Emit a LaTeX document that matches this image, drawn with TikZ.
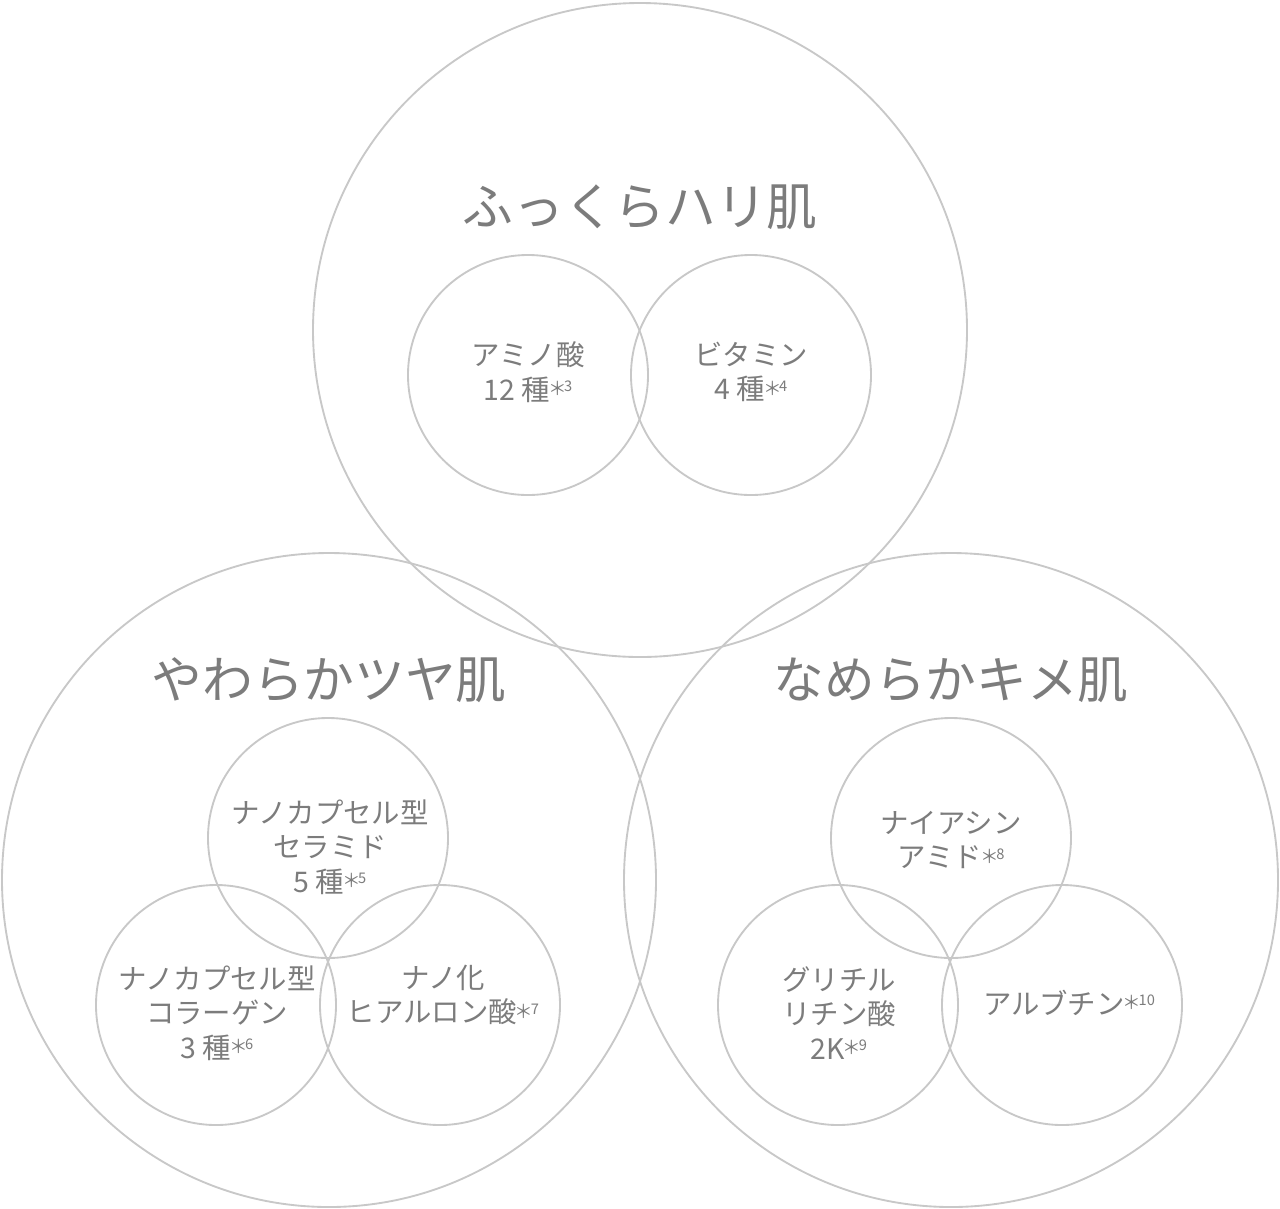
\documentclass[tikz,border=0pt]{standalone}
\usepackage{fontspec}
\setmainfont{Noto Sans CJK JP}
\definecolor{ringgray}{HTML}{C8C8C8}
\definecolor{textgray}{HTML}{7C7C7C}
\newcommand\chu[1]{\kern-1.5pt\raisebox{3.5pt}{\fontsize{14}{14}\selectfont ＊}\kern-2pt\raisebox{6.5pt}{\fontsize{11}{11}\selectfont #1}}

\begin{document}
\begin{tikzpicture}[x=0.75pt,y=-0.75pt,
        bigring/.style={circle,draw=ringgray,line width=1.4pt,minimum size=490.5pt,inner sep=0pt},
        smallring/.style={circle,draw=ringgray,line width=1.4pt,minimum size=180pt,inner sep=0pt},
        skin/.style={text=textgray,font=\fontsize{38}{40}\selectfont,inner sep=0pt},
        ingr/.style={text=textgray,font=\fontsize{21.3}{26}\selectfont,align=center,inner sep=0pt}]
        \useasboundingbox (0,0) rectangle (1280,1208);
        \node[bigring] (Hari) at (640,330) {};
        \node[bigring] (Tsuya) at (329,880) {};
        \node[bigring] (Kime) at (951,880) {};
        \node[smallring] (Amino) at (528,375) {};
        \node[smallring] (Vita) at (751,375) {};
        \node[smallring] (Cera) at (328,838) {};
        \node[smallring] (Colla) at (216,1005) {};
        \node[smallring] (Hyal) at (440,1005) {};
        \node[smallring] (Nia) at (951,838) {};
        \node[smallring] (Gly) at (838,1005) {};
        \node[smallring] (Arb) at (1062,1005) {};
        \node[skin] (HariT) at (640,207) {ふっくらハリ肌};
        \node[skin] (TsuyaT) at (329,680) {やわらかツヤ肌};
        \node[skin] (KimeT) at (951,680) {なめらかキメ肌};
        \node[ingr] (AminoT) at (528,372) {アミノ酸\\12 種\chu{3}};
        \node[ingr] (VitaT) at (751,372) {ビタミン\\4 種\chu{4}};
        \node[ingr] (CeraT) at (330,847) {ナノカプセル型\\セラミド\\5 種\chu{5}};
        \node[ingr] (CollaT) at (217,1013) {ナノカプセル型\\コラーゲン\\3 種\chu{6}};
        \node[ingr] (HyalT) at (443,995) {ナノ化\\ヒアルロン酸\chu{7}};
        \node[ingr] (NiaT) at (951,840) {ナイアシン\\アミド\chu{8}};
        \node[ingr] (GlyT) at (839,1013) {グリチル\\リチン酸\\2K\chu{9}};
        \node[ingr] (ArbT) at (1069,1003) {アルブチン\chu{10}};
      \end{tikzpicture}
\end{document}
